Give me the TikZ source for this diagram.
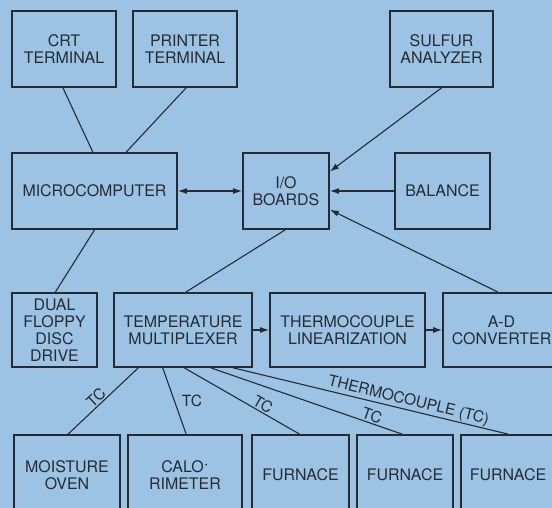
\documentclass[tikz,border=0pt]{standalone}
\usepackage{fontspec}
\setmainfont{TeX Gyre Heros}
\usetikzlibrary{calc,arrows.meta}
\definecolor{bgblue}{HTML}{9CC3E4}
\definecolor{ink}{HTML}{262B33}
\tikzset{
  box/.style={draw=ink, line width=1.8bp, rectangle, inner sep=0pt, align=center,
    text=ink, font=\fontsize{16}{17}\selectfont},
  wire/.style={draw=ink, line width=1.1bp},
  arr/.style={wire, -{Latex[length=9bp,width=6bp]}},
  darr/.style={wire, {Latex[length=9bp,width=6bp]}-{Latex[length=9bp,width=6bp]}},
  lbl/.style={text=ink, font=\fontsize{15.5}{16}\selectfont, inner sep=1bp}
}
\begin{document}
\begin{tikzpicture}[x=1bp,y=-1bp]
\useasboundingbox (0,0) rectangle (552,508);
\clip (0,0) rectangle (552,508);
\fill[bgblue] (0,0) rectangle (552,508);

% top row
\node[box, minimum width=104bp, minimum height=76bp] (crt) at (64,49) {CRT\\TERMINAL};
\node[box, minimum width=104bp, minimum height=76bp] (prt) at (185,49) {PRINTER\\TERMINAL};
\node[box, minimum width=103bp, minimum height=76bp] (sulf) at (441.5,49) {SULFUR\\ANALYZER};
% second row
\node[box, minimum width=165bp, minimum height=76bp] (micro) at (94.5,191) {MICROCOMPUTER};
\node[box, minimum width=86bp, minimum height=76bp] (io) at (286,191) {I/O\\BOARDS};
\node[box, minimum width=95bp, minimum height=76bp] (bal) at (442.5,191) {BALANCE};
% third row
\node[box, minimum width=85bp, minimum height=74bp] (flop) at (54.5,330) {DUAL\\FLOPPY\\DISC\\DRIVE};
\node[box, minimum width=138bp, minimum height=74bp] (mux) at (183,330) {TEMPERATURE\\MULTIPLEXER};
\node[box, minimum width=155bp, minimum height=74bp] (lin) at (347.5,330) {THERMOCOUPLE\\LINEARIZATION};
\node[box, minimum width=117bp, minimum height=74bp] (ad) at (501.5,330) {A-D\\CONVERTER};
% bottom row
\node[box, minimum width=106bp, minimum height=80bp] (moist) at (67,475) {MOISTURE\\OVEN};
\node[box, minimum width=114bp, minimum height=80bp] (calo) at (185,475) {CALO\raisebox{0.35ex}{$\cdot$}\\RIMETER};
\node[box, minimum width=97bp, minimum height=80bp] (f1) at (300.5,475) {FURNACE};
\node[box, minimum width=96bp, minimum height=80bp] (f2) at (405,475) {FURNACE};
\node[box, minimum width=94bp, minimum height=80bp] (f3) at (508,475) {FURNACE};

% connectors
\draw[wire] ($(crt.south west)!0.49!(crt.south east)$) -- ($(micro.north west)!0.49!(micro.north east)$);
\draw[wire] ($(prt.south west)!0.51!(prt.south east)$) -- ($(micro.north west)!0.69!(micro.north east)$);
\draw[darr] (micro.east) -- (io.west);
\draw[arr] ($(sulf.south west)!0.5!(sulf.south east)$) -- ($(io.north east)!0.25!(io.south east)$);
\draw[arr] (bal.west) -- (io.east);
\draw[arr] ($(ad.north west)!0.47!(ad.north east)$) -- ($(io.north east)!0.74!(io.south east)$);
\draw[wire] ($(micro.south west)!0.5!(micro.south east)$) -- ($(flop.north west)!0.51!(flop.north east)$);
\draw[wire] ($(io.south west)!0.49!(io.south east)$) -- ($(mux.north west)!0.52!(mux.north east)$);
\draw[arr] (mux.east) -- (lin.west);
\draw[arr] (lin.east) -- (ad.west);

\draw[wire] ($(moist.north west)!0.51!(moist.north east)$) -- node[lbl, sloped, above, pos=0.47] {TC} ($(mux.south west)!0.18!(mux.south east)$);
\draw[wire] ($(mux.south west)!0.355!(mux.south east)$) -- node[lbl, right=6bp, pos=0.5] {TC} ($(calo.north west)!0.51!(calo.north east)$);
\draw[wire] ($(mux.south west)!0.51!(mux.south east)$) -- node[lbl, sloped, above, pos=0.65] {TC} ($(f1.north west)!0.49!(f1.north east)$);
\draw[wire] ($(mux.south west)!0.70!(mux.south east)$) -- node[lbl, sloped, above, pos=0.83] {TC} ($(f2.north west)!0.47!(f2.north east)$);
\draw[wire] ($(mux.south west)!0.86!(mux.south east)$) -- node[lbl, sloped, above, pos=0.63] {THERMOCOUPLE (TC)} ($(f3.north west)!0.5!(f3.north east)$);
\end{tikzpicture}
\end{document}
